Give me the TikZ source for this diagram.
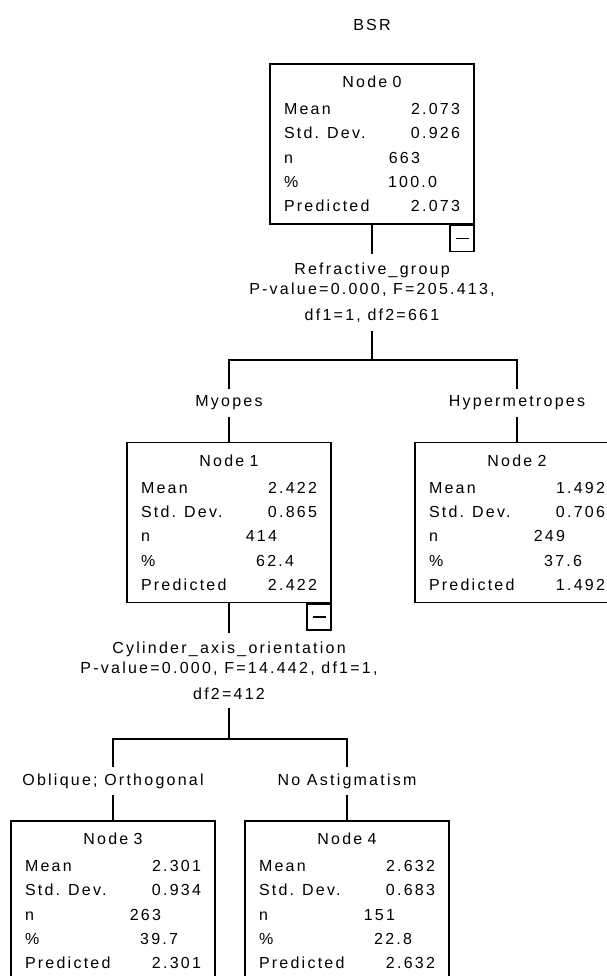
\documentclass[tikz,border=0pt]{standalone}
\usepackage{fontspec}
\setmainfont{Liberation Sans}[LetterSpace=14]
\begin{document}
\begin{tikzpicture}[x=1pt,y=-1pt,line width=1.4pt,
    treenode/.style={draw,minimum width=204pt,minimum height=160pt,inner sep=0pt,
      text width=176pt,align=left,font=\fontsize{16}{24.3}\selectfont},
    minusbox/.style={draw,fill=white,minimum width=24pt,minimum height=26pt,inner sep=0pt},
    split/.style={align=center,inner xsep=2pt,inner ysep=8pt,anchor=north,
      font=\fontsize{16}{20}\selectfont},
    branch/.style={inner sep=0pt,minimum height=26pt,font=\fontsize{16}{20}\selectfont}]
    \useasboundingbox (0,0) rectangle (606,976);
    \node[font=\fontsize{16}{20}\selectfont] (bsr) at (372,25) {BSR};
    % root
    \node[treenode] (n0) at (372,144) {\makebox[176pt]{Node 0}\\[2.7pt]
      Mean\hfill 2.073\\
      Std. Dev.\hfill 0.926\\
      \makebox[136pt][l]{n\hfill 663}\\
      \makebox[153pt][l]{\%\hfill 100.0}\\
      Predicted\hfill 2.073};
    \node[minusbox,anchor=north east] (m0) at (n0.south east) {\rule{13pt}{1.2pt}};
    \node[split] (s0) at (372,254) {Refractive\_group\\P-value=0.000, F=205.413,\\[6pt]df1=1, df2=661};
    \draw (n0.south) -- (s0.north);
    \coordinate (j0) at (372,360);
    \draw (s0.south) -- (j0);
    \node[branch] (b1) at (229,403) {Myopes};
    \node[branch] (b2) at (517,403) {Hypermetropes};
    \draw (b1.north) |- (j0) -| (b2.north);
    % first level
    \node[treenode] (n1) at (229,522.5) {\makebox[176pt]{Node 1}\\[2.7pt]
      Mean\hfill 2.422\\
      Std. Dev.\hfill 0.865\\
      \makebox[136pt][l]{n\hfill 414}\\
      \makebox[153pt][l]{\%\hfill 62.4}\\
      Predicted\hfill 2.422};
    \node[treenode] (n2) at (517,522.5) {\makebox[176pt]{Node 2}\\[2.7pt]
      Mean\hfill 1.492\\
      Std. Dev.\hfill 0.706\\
      \makebox[136pt][l]{n\hfill 249}\\
      \makebox[153pt][l]{\%\hfill 37.6}\\
      Predicted\hfill 1.492};
    \draw (b1.south) -- (n1.north);
    \draw (b2.south) -- (n2.north);
    \node[minusbox,anchor=north east] (m1) at (n1.south east) {\rule{13pt}{1.2pt}};
    \node[split] (s1) at (229,633) {Cylinder\_axis\_orientation\\P-value=0.000, F=14.442, df1=1,\\[6pt]df2=412};
    \draw (n1.south) -- (s1.north);
    \coordinate (j1) at (229,739);
    \draw (s1.south) -- (j1);
    \node[branch] (b3) at (113,781) {Oblique; Orthogonal};
    \node[branch] (b4) at (347,781) {No Astigmatism};
    \draw (b3.north) |- (j1) -| (b4.north);
    % second level
    \node[treenode] (n3) at (113,901) {\makebox[176pt]{Node 3}\\[2.7pt]
      Mean\hfill 2.301\\
      Std. Dev.\hfill 0.934\\
      \makebox[136pt][l]{n\hfill 263}\\
      \makebox[153pt][l]{\%\hfill 39.7}\\
      Predicted\hfill 2.301};
    \node[treenode] (n4) at (347,901) {\makebox[176pt]{Node 4}\\[2.7pt]
      Mean\hfill 2.632\\
      Std. Dev.\hfill 0.683\\
      \makebox[136pt][l]{n\hfill 151}\\
      \makebox[153pt][l]{\%\hfill 22.8}\\
      Predicted\hfill 2.632};
    \draw (b3.south) -- (n3.north);
    \draw (b4.south) -- (n4.north);
\end{tikzpicture}
\end{document}
